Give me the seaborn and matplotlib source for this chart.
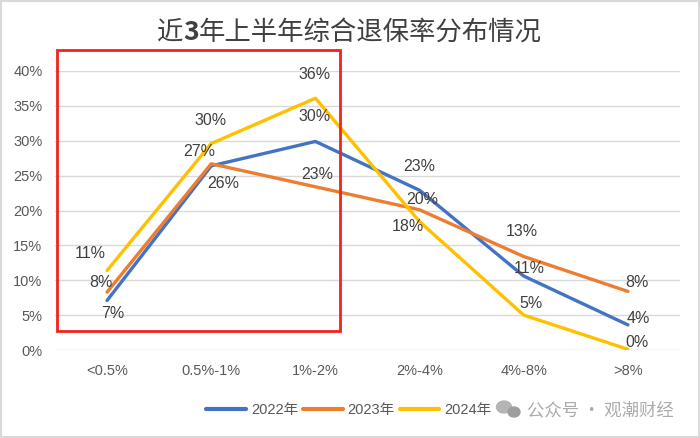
import matplotlib
matplotlib.use('Agg')
import matplotlib.pyplot as plt
import seaborn as sns
import pandas as pd
from matplotlib.patches import Rectangle, Ellipse
from matplotlib.lines import Line2D

# ---------------- data ----------------
categories = ['<0.5%', '0.5%-1%', '1%-2%', '2%-4%', '4%-8%', '>8%']
series_names = ['2022年', '2023年', '2024年']
values_2022 = [7.1, 26.4, 29.9, 22.9, 10.6, 3.6]
values_2023 = [8.3, 26.7, 23.4, 20.1, 13.4, 8.4]
values_2024 = [11.4, 29.6, 36.1, 18.4, 5.0, 0.1]
y_ticks = [0, 5, 10, 15, 20, 25, 30, 35, 40]
title_parts = ['近', '3', '年上半年综合退保率分布情况']
watermark = '公众号 · 观潮财经'

# ---------------- styles ----------------
colors = ['#4472C4', '#ED7D31', '#FFC000']
label_offsets = [
    [(6, -13), (12, -18), (-1, 25), (0, 24), (5, 8), (10, 6)],
    [(-6, 10), (-12, 12), (2, 12), (3, 10), (-2, 25), (9, 9)],
    [(-17, 17), (-1, 23), (-1, 24), (-12, -5), (7, 12), (9, 7)],
]

sns.set_theme(style='white')
plt.rcParams['font.family'] = ['Liberation Sans', 'Noto Sans CJK SC', 'DejaVu Sans']

all_values = [values_2022, values_2023, values_2024]
df = pd.DataFrame({
    '区间': categories * 3,
    '年份': [s for s in series_names for _ in categories],
    '值': values_2022 + values_2023 + values_2024,
})

W, H = 700, 438
fig = plt.figure(figsize=(7, 4.38), dpi=100)
ax = fig.add_axes([55 / W, 1 - 350 / H, 625 / W, 279 / H])

sns.lineplot(data=df, x='区间', y='值', hue='年份', palette=colors, sort=False,
             linewidth=2.4, ax=ax, legend=False)

ax.set_xlim(-0.5, len(categories) - 0.5)
ax.set_ylim(0, 40)
ax.set_yticks(y_ticks)
ax.set_yticklabels([f'{t}%' for t in y_ticks], fontsize=10.5, color='#595959')
ax.set_xticks(range(len(categories)))
ax.set_xticklabels(categories, fontsize=10.5, color='#595959')
ax.tick_params(axis='y', length=0, pad=9)
ax.tick_params(axis='x', length=0, pad=10)
ax.set_xlabel('')
ax.set_ylabel('')
ax.grid(axis='y', color='#d9d9d9', linewidth=1)
ax.set_axisbelow(True)
for s in ax.spines.values():
    s.set_visible(False)

# data labels
for vals, offs in zip(all_values, label_offsets):
    for i, (v, o) in enumerate(zip(vals, offs)):
        ax.annotate(f'{round(v)}%', (i, v), xytext=o, textcoords='offset pixels',
                    ha='center', va='center', fontsize=11.5, color='#404040')

# red highlight box
ax.add_patch(Rectangle((-0.48, 2.72), 2.716, 40.28, fill=False, edgecolor='#F2231A',
                       linewidth=2, clip_on=False, zorder=5))

# title (bold "3" like the reference)
renderer = fig.canvas.get_renderer()
weights = ['normal', 'bold', 'normal']
texts = [fig.text(0, 1 - 32 / H, p, ha='left', va='center', fontsize=19, color='#404040',
                  family=['Noto Sans CJK SC'], fontweight=w)
         for p, w in zip(title_parts, weights)]
widths = [t.get_window_extent(renderer).width for t in texts]
x = (349 - sum(widths) / 2)
for t, w in zip(texts, widths):
    t.set_x(x / W)
    x += w

# legend
handles = [Line2D([0], [0], color=c, linewidth=3) for c in colors]
fig.legend(handles, series_names, loc='center', bbox_to_anchor=(349 / W, 1 - 410 / H),
           ncol=3, frameon=False, fontsize=10.5, handlelength=2.7, handletextpad=0.35,
           columnspacing=0.35, labelcolor='#595959')

# watermark
fig.patches.append(Ellipse((504 / W, 1 - 407 / H), 15 / W, 12 / H, transform=fig.transFigure,
                           color='#b5b5b5', zorder=10))
fig.patches.append(Ellipse((514 / W, 1 - 412 / H), 12 / W, 10 / H, transform=fig.transFigure,
                           color='#9e9e9e', zorder=10))
fig.text(527 / W, 1 - 410 / H, watermark, ha='left', va='center', fontsize=12.5,
         color='#ababab', family=['Noto Sans CJK SC'])

# chart border
fig.patches.append(Rectangle((0.002, 0.002), 0.996, 0.996, transform=fig.transFigure,
                             fill=False, edgecolor='#d9d9d9', linewidth=1.5))

fig.savefig('out.png', dpi=100)
